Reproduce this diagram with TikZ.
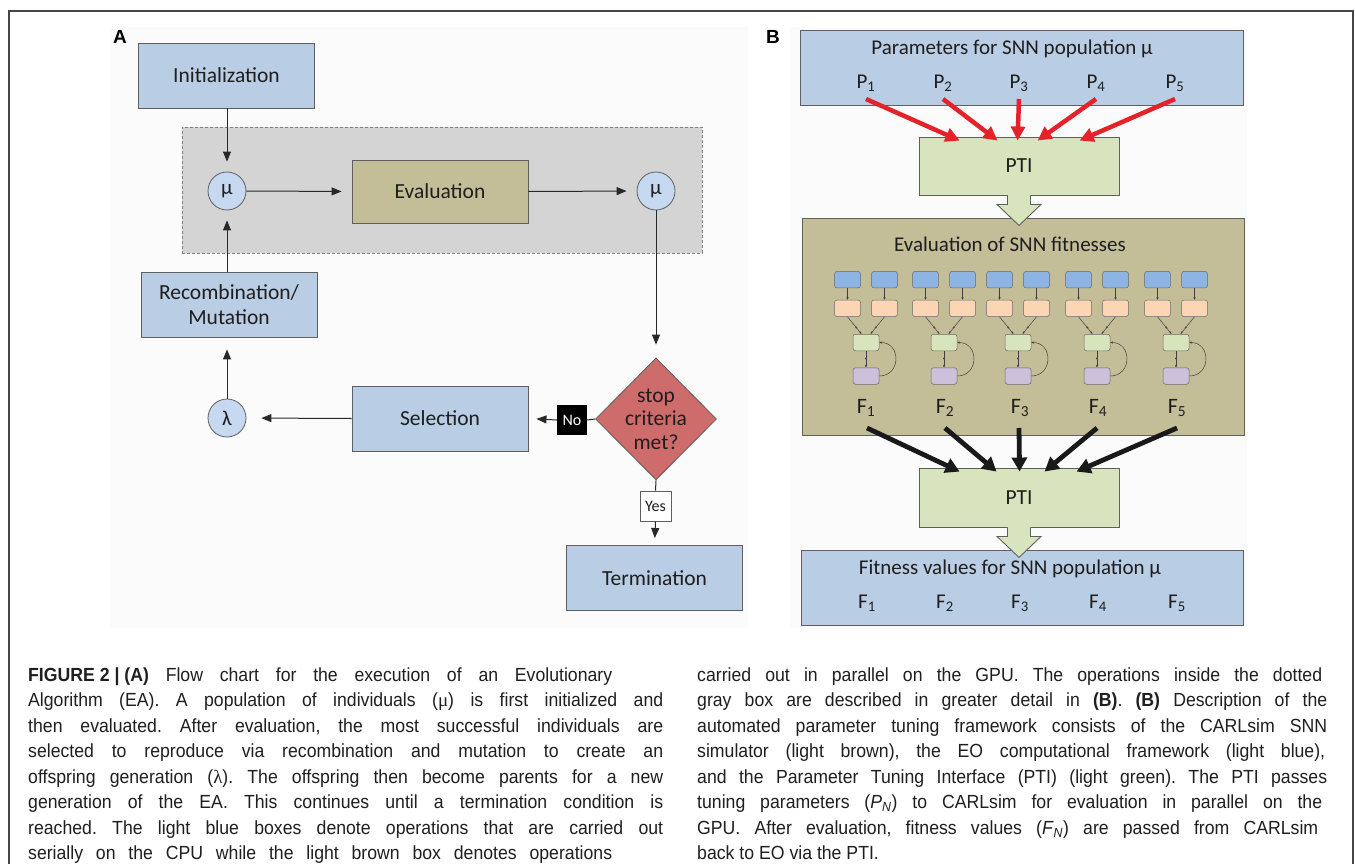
\documentclass[tikz,border=0pt]{standalone}
\usepackage{fontspec}
\setmainfont{Carlito}
\newfontfamily\capfont[FakeStretch=0.93]{Liberation Sans}
\newfontfamily\grfont{Liberation Serif}
\newfontfamily\panelfont{Liberation Sans}
\usetikzlibrary{shapes.geometric,arrows.meta,calc}

\definecolor{boxblue}{RGB}{185,205,229}
\definecolor{circblue}{RGB}{198,217,241}
\definecolor{boxgray}{RGB}{212,212,212}
\definecolor{khaki}{RGB}{196,190,152}
\definecolor{diamondred}{RGB}{206,107,107}
\definecolor{ptigreen}{RGB}{215,228,189}
\definecolor{redarrow}{RGB}{228,34,42}
\definecolor{boxedge}{RGB}{95,95,95}
\definecolor{linegray}{RGB}{40,40,40}
\definecolor{dashgray}{RGB}{130,130,130}
\definecolor{bgpanel}{RGB}{251,251,251}
\definecolor{framecol}{RGB}{70,70,70}
\definecolor{nblue}{RGB}{141,180,226}
\definecolor{norange}{RGB}{252,213,180}
\definecolor{ngreen}{RGB}{215,228,188}
\definecolor{npurple}{RGB}{204,192,218}
\definecolor{nedge}{RGB}{105,105,105}
\definecolor{txt}{RGB}{30,30,30}

\tikzset{
  box/.style={draw=boxedge, line width=0.9pt, fill=boxblue, minimum width=176pt, minimum height=65pt, inner sep=0pt, align=center, text=txt, font=\fontsize{21.5}{25}\selectfont},
  circ/.style={circle, draw=boxedge, line width=0.8pt, fill=circblue, minimum size=38pt, inner sep=0pt, text=txt, font=\fontsize{21}{24}\selectfont},
  flow/.style={draw=linegray, line width=1pt, -{Triangle[length=10pt,width=8pt]}, shorten >=10pt},
  plain/.style={draw=linegray, line width=1pt},
  lbl/.style={inner sep=0pt, text=txt, font=\fontsize{21}{24}\selectfont},
  sublbl/.style={inner sep=0pt, text=txt, font=\fontsize{22}{24}\selectfont},
  panellbl/.style={inner sep=0pt, font=\panelfont\bfseries\fontsize{19}{20}\selectfont},
  redarr/.style={draw=redarrow, line width=4.5pt, -{Triangle[length=14pt,width=14pt]}},
  blkarr/.style={draw=black!90, line width=4.8pt, -{Triangle[length=14pt,width=15pt]}},
  nbox/.style={draw=nedge, line width=0.5pt, rounded corners=2.5pt, minimum width=26pt, minimum height=16.5pt, inner sep=0pt},
  narrow/.style={draw=black!75, line width=0.5pt, -{Stealth[length=2.8pt,width=2.4pt]}},
  capline/.style={anchor=base west, inner sep=0pt, text=black!88, font=\capfont\fontsize{19}{25}\selectfont\frenchspacing},
}

\begin{document}
\begin{tikzpicture}[x=1pt,y=-1pt]
\useasboundingbox (0,0) rectangle (1355,864);
\fill[white] (0,0) rectangle (1355,864);
\fill[bgpanel] (110,27) rectangle (748,628);
\fill[bgpanel] (790,27) rectangle (1247,628);
\draw[framecol, line width=1.3pt] (9,870) -- (9,11) -- (1353,11) -- (1353,870);

% ---------------- Panel A ----------------
\node[panellbl] (labA) at (120,37) {A};
\node[draw=dashgray, dash pattern=on 3pt off 2pt, line width=0.8pt, fill=boxgray, minimum width=520pt, minimum height=126pt, inner sep=0pt] (loop) at (442,190) {};

\node[box] (init) at (226.5,75.5) {Initialization};
\node[circ] (mu1) at (227,191) {μ};
\node[box, fill=khaki, minimum height=63pt] (eval) at (440,191.5) {Evaluation};
\node[circ] (mu2) at (656,191) {μ};
\node[box] (recomb) at (229,304.5) {Recombination/\\Mutation};
\node[circ] (lambda) at (227,418) {λ};
\node[box] (sel) at (440,418.5) {Selection};
\node[diamond, draw=boxedge, line width=0.8pt, fill=diamondred, minimum width=121pt, minimum height=122pt, inner sep=0pt,
      label={[align=center, text=txt, font=\fontsize{21.5}{23.5}\selectfont]center:stop\\criteria\\met?}] (stop) at (656,419) {};
\node[fill=black, text=white, minimum width=30pt, minimum height=30pt, inner sep=0pt, font=\fontsize{16}{16}\selectfont] (no) at (572,420) {No};
\node[draw=boxedge, line width=0.9pt, fill=white, text=txt, minimum width=31pt, minimum height=30pt, inner sep=0pt, font=\fontsize{16}{16}\selectfont] (yes) at (655.5,506) {Yes};
\node[box] (term) at (654.5,578) {Termination};

\draw[flow] (mu1.north |- init.south) -- (mu1.north);
\draw[flow] (mu1.south |- recomb.north) -- (mu1.south);
\draw[flow] (mu1.east) -- (eval.west);
\draw[flow] (eval.east) -- (mu2.west);
\draw[flow, shorten >=13pt] (mu2.south) -- (stop.north);
\draw[plain] (stop.west) -- (no.east);
\draw[flow, shorten >=8pt] (no.west) -- (sel.east);
\draw[flow, shorten >=15pt] (sel.west) -- (lambda.east);
\draw[flow, shorten >=12pt] (lambda.north) -- (lambda.north |- recomb.south);
\draw[plain] (stop.south) -- (yes.north);
\draw[flow, shorten >=7pt] (yes.south) -- (term.north);

% ---------------- Panel B ----------------
\node[panellbl] (labB) at (773,37) {B};
\node[box, minimum width=443pt, minimum height=75pt] (params) at (1021.5,67.5) {};
\node[lbl] (ptitle) at (1012,49) {Parameters for SNN population μ};
\foreach \x [count=\i] in {866,943,1019,1096,1175}
  \node[lbl] (p\i) at (\x,83) {P\textsubscript{\i}};

\node[box, fill=ptigreen, minimum width=200pt, minimum height=58pt] (pti1) at (1019,166) {PTI};

\draw[redarr] ($(p1)+(0,16)$) -- ($(pti1.north west)+(41,4)$);
\draw[redarr] ($(p2)+(0,16)$) -- ($(pti1.north west)+(79,4)$);
\draw[redarr] ($(p3)+(0,16)$) -- ($(pti1.north west)+(99,4)$);
\draw[redarr] ($(p4)+(0,16)$) -- ($(pti1.north west)+(119,4)$);
\draw[redarr] ($(p5)+(0,16)$) -- ($(pti1.north west)+(161,4)$);

\node[box, fill=khaki, minimum width=442pt, minimum height=217pt] (snn) at (1023,326.5) {};
\node[lbl] (stitle) at (1010,244) {Evaluation of SNN fitnesses};

\begin{scope}[shift={(pti1.south)}]
  \fill[ptigreen] (-11.5,-1.5) -- (-11.5,9) -- (-22,9) -- (0,30) -- (22,9) -- (11.5,9) -- (11.5,-1.5) -- cycle;
  \draw[boxedge, line width=0.9pt, line join=miter] (-11.5,0) -- (-11.5,9) -- (-22,9) -- (0,30) -- (22,9) -- (11.5,9) -- (11.5,0);
\end{scope}

\foreach \cx [count=\i] in {866,944,1018,1097,1176} {
  \node[nbox, fill=nblue] (ba\i) at (\cx-18.5,279.7) {};
  \node[nbox, fill=nblue] (bb\i) at (\cx+18.5,279.7) {};
  \node[nbox, fill=norange] (oa\i) at (\cx-18.5,308.3) {};
  \node[nbox, fill=norange] (ob\i) at (\cx+18.5,308.3) {};
  \node[nbox, fill=ngreen] (g\i) at (\cx,342.5) {};
  \node[nbox, fill=npurple] (u\i) at (\cx,376) {};
  \draw[narrow] (ba\i) -- (oa\i);
  \draw[narrow] (bb\i) -- (ob\i);
  \draw[narrow] (oa\i.south) -- ($(g\i.north)+(-4.5,0)$);
  \draw[narrow] (ob\i.south) -- ($(g\i.north)+(4.5,0)$);
  \fill[black!70] ($(oa\i.south)!0.62!($(g\i.north)+(-4.5,0)$)$) circle (1.1pt);
  \fill[black!70] ($(ob\i.south)!0.62!($(g\i.north)+(4.5,0)$)$) circle (1.1pt);
  \draw[narrow] (g\i) -- (u\i);
  \fill[black!70] ($(g\i.south)!0.45!(u\i.north)$) circle (1.1pt);
  \draw[narrow] (u\i.east) .. controls +(22,0) and +(22,0) .. (g\i.east);
}

\foreach \x [count=\i] in {866,945,1020,1098,1177}
  \node[sublbl] (f\i) at (\x,408) {F\textsubscript{\i}};

\node[box, fill=ptigreen, minimum width=200pt, minimum height=59pt] (pti2) at (1019,497.5) {PTI};

\draw[blkarr] ($(f1)+(1,20)$) -- ($(pti2.north west)+(41,4)$);
\draw[blkarr] ($(f2)+(0,20)$) -- ($(pti2.north west)+(78,4)$);
\draw[blkarr] ($(f3)+(-1,20)$) -- ($(pti2.north west)+(101,4)$);
\draw[blkarr] ($(f4)+(-1,20)$) -- ($(pti2.north west)+(126,4)$);
\draw[blkarr] ($(f5)+(0,20)$) -- ($(pti2.north west)+(158,4)$);

\node[box, minimum width=442pt, minimum height=75pt] (fitv) at (1022,587.5) {};
\node[lbl] (ftitle) at (1010,569) {Fitness values for SNN population μ};
\foreach \x [count=\i] in {867,945,1020,1098,1177}
  \node[lbl] (fv\i) at (\x,603) {F\textsubscript{\i}};

\begin{scope}[shift={(pti2.south)}]
  \fill[ptigreen] (-11.5,-1.5) -- (-11.5,9) -- (-22,9) -- (0,30) -- (22,9) -- (11.5,9) -- (11.5,-1.5) -- cycle;
  \draw[boxedge, line width=0.9pt, line join=miter] (-11.5,0) -- (-11.5,9) -- (-22,9) -- (0,30) -- (22,9) -- (11.5,9) -- (11.5,0);
\end{scope}

% ---------------- Caption ----------------
\node[capline] (c1) at (28,681) {\makebox[584pt][s]{\mbox{\textbf{FIGURE 2 | (A)}} Flow chart for the execution of an Evolutionary}};
\node[capline] (c2) at (28,706.5) {\makebox[635pt][s]{Algorithm (EA). A population of individuals ({\grfont μ}) is first initialized and}};
\node[capline] (c3) at (28,732) {\makebox[635pt][s]{then evaluated. After evaluation, the most successful individuals are}};
\node[capline] (c4) at (28,757.5) {\makebox[635pt][s]{selected to reproduce via recombination and mutation to create an}};
\node[capline] (c5) at (28,783) {\makebox[635pt][s]{offspring generation ({\grfont λ}). The offspring then become parents for a new}};
\node[capline] (c6) at (28,808.5) {\makebox[635pt][s]{generation of the EA. This continues until a termination condition is}};
\node[capline] (c7) at (28,834) {\makebox[635pt][s]{reached. The light blue boxes denote operations that are carried out}};
\node[capline] (c8) at (28,859.5) {\makebox[584pt][s]{serially on the CPU while the light brown box denotes operations}};

\node[capline] (d1) at (697,681) {\makebox[625pt][s]{carried out in parallel on the GPU. The operations inside the dotted}};
\node[capline] (d2) at (697,706.5) {\makebox[630pt][s]{gray box are described in greater detail in \textbf{(B)}. \textbf{(B)} Description of the}};
\node[capline] (d3) at (697,732) {\makebox[630pt][s]{automated parameter tuning framework consists of the CARLsim SNN}};
\node[capline] (d4) at (697,757.5) {\makebox[628pt][s]{simulator (light brown), the EO computational framework (light blue),}};
\node[capline] (d5) at (697,783) {\makebox[630pt][s]{and the Parameter Tuning Interface (PTI) (light green). The PTI passes}};
\node[capline] (d6) at (697,808.5) {\makebox[625pt][s]{tuning parameters (\textit{P}\textsubscript{\textit{N}}) to CARLsim for evaluation in parallel on the}};
\node[capline] (d7) at (697,834) {\makebox[621pt][s]{GPU. After evaluation, fitness values (\textit{F}\textsubscript{\textit{N}}) are passed from CARLsim}};
\node[capline] (d8) at (697,859.5) {back to EO via the PTI.};
\end{tikzpicture}
\end{document}
